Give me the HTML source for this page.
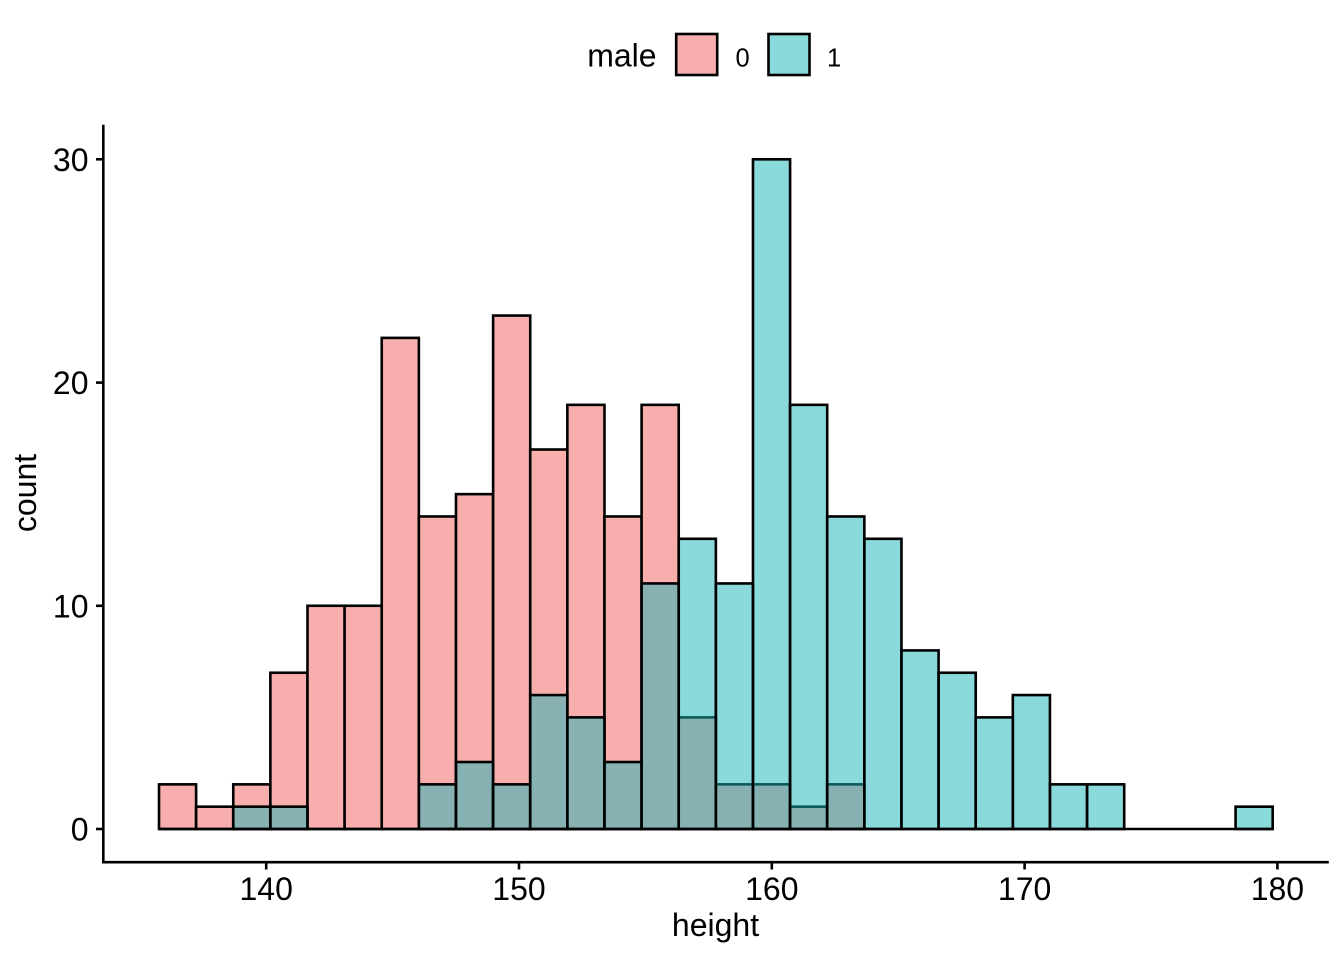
<!DOCTYPE html>
<html>
<head>
<meta charset="utf-8">
<style>
html,body{margin:0;padding:0;background:#fff;}
svg{display:block;}
text{font-family:"Liberation Sans",Arial,sans-serif;fill:#000;}
</style>
</head>
<body>
<svg width="1344" height="960" viewBox="0 0 1344 960" xmlns="http://www.w3.org/2000/svg">
<rect x="0" y="0" width="1344" height="960" fill="#fff"/>

<!-- female (0) bars -->
<g fill="rgb(248,174,172)" stroke="#000" stroke-width="2.6" stroke-linejoin="miter">
<rect x="159.00" y="784.35" width="37.12" height="44.65"/>
<rect x="196.12" y="806.68" width="37.13" height="22.32"/>
<rect x="233.25" y="784.35" width="37.12" height="44.65"/>
<rect x="270.37" y="672.74" width="37.12" height="156.26"/>
<rect x="307.49" y="605.77" width="37.13" height="223.23"/>
<rect x="344.62" y="605.77" width="37.12" height="223.23"/>
<rect x="381.74" y="337.89" width="37.12" height="491.11"/>
<rect x="418.86" y="516.48" width="37.12" height="312.52"/>
<rect x="455.98" y="494.15" width="37.13" height="334.85"/>
<rect x="493.11" y="315.57" width="37.12" height="513.43"/>
<rect x="530.23" y="449.51" width="37.12" height="379.49"/>
<rect x="567.35" y="404.86" width="37.13" height="424.14"/>
<rect x="604.48" y="516.48" width="37.12" height="312.52"/>
<rect x="641.60" y="404.86" width="37.12" height="424.14"/>
<rect x="678.72" y="717.38" width="37.13" height="111.62"/>
<rect x="715.85" y="784.35" width="37.12" height="44.65"/>
<rect x="752.97" y="784.35" width="37.12" height="44.65"/>
<rect x="790.09" y="806.68" width="37.12" height="22.32"/>
<rect x="827.21" y="784.35" width="37.13" height="44.65"/>
</g>

<!-- male (1) bars -->
<g fill="rgba(21,179,183,0.5)" stroke="#000" stroke-width="2.6" stroke-linejoin="miter">
<rect x="233.25" y="806.68" width="37.12" height="22.32"/>
<rect x="270.37" y="806.68" width="37.12" height="22.32"/>
<rect x="418.86" y="784.35" width="37.12" height="44.65"/>
<rect x="455.98" y="762.03" width="37.13" height="66.97"/>
<rect x="493.11" y="784.35" width="37.12" height="44.65"/>
<rect x="530.23" y="695.06" width="37.12" height="133.94"/>
<rect x="567.35" y="717.38" width="37.13" height="111.62"/>
<rect x="604.48" y="762.03" width="37.12" height="66.97"/>
<rect x="641.60" y="583.45" width="37.12" height="245.55"/>
<rect x="678.72" y="538.80" width="37.13" height="290.20"/>
<rect x="715.85" y="583.45" width="37.12" height="245.55"/>
<rect x="752.97" y="159.31" width="37.12" height="669.69"/>
<rect x="790.09" y="404.86" width="37.12" height="424.14"/>
<rect x="827.21" y="516.48" width="37.13" height="312.52"/>
<rect x="864.34" y="538.80" width="37.12" height="290.20"/>
<rect x="901.46" y="650.42" width="37.12" height="178.58"/>
<rect x="938.58" y="672.74" width="37.13" height="156.26"/>
<rect x="975.71" y="717.38" width="37.12" height="111.62"/>
<rect x="1012.83" y="695.06" width="37.12" height="133.94"/>
<rect x="1049.95" y="784.35" width="37.13" height="44.65"/>
<rect x="1087.08" y="784.35" width="37.12" height="44.65"/>
<rect x="1235.57" y="806.68" width="37.12" height="22.32"/>
</g>

<!-- baseline (zero-count bins) -->
<line x1="159" y1="829" x2="1272.69" y2="829" stroke="#000" stroke-width="2.6"/>

<!-- axes -->
<g stroke="#000" stroke-width="2.6" stroke-linecap="square">
<line x1="103.3" y1="126" x2="103.3" y2="862.2"/>
<line x1="103.3" y1="862.2" x2="1327.5" y2="862.2"/>
</g>
<g stroke="#000" stroke-width="2.6">
<line x1="96" y1="159.3" x2="103.3" y2="159.3"/>
<line x1="96" y1="382.6" x2="103.3" y2="382.6"/>
<line x1="96" y1="605.8" x2="103.3" y2="605.8"/>
<line x1="96" y1="829" x2="103.3" y2="829"/>
<line x1="266.2" y1="862.2" x2="266.2" y2="869.5"/>
<line x1="519" y1="862.2" x2="519" y2="869.5"/>
<line x1="771.8" y1="862.2" x2="771.8" y2="869.5"/>
<line x1="1024.6" y1="862.2" x2="1024.6" y2="869.5"/>
<line x1="1277.4" y1="862.2" x2="1277.4" y2="869.5"/>
</g>

<!-- tick labels -->
<g font-size="32" text-anchor="end">
<text x="88.5" y="170.8">30</text>
<text x="88.5" y="394.1">20</text>
<text x="88.5" y="617.3">10</text>
<text x="88.5" y="840.5">0</text>
</g>
<g font-size="32" text-anchor="middle">
<text x="266.2" y="900">140</text>
<text x="519" y="900">150</text>
<text x="771.8" y="900">160</text>
<text x="1024.6" y="900">170</text>
<text x="1277.4" y="900">180</text>
</g>

<!-- axis titles -->
<text x="715.5" y="936" font-size="32" text-anchor="middle">height</text>
<text x="0" y="0" font-size="32" text-anchor="middle" transform="translate(36,493) rotate(-90)">count</text>

<!-- legend -->
<text x="587.2" y="66.7" font-size="32">male</text>
<rect x="676.2" y="34" width="41" height="41" fill="rgb(248,174,172)" stroke="#000" stroke-width="2.6"/>
<text x="735.5" y="66.5" font-size="25.5">0</text>
<rect x="768.5" y="34" width="41" height="41" fill="rgba(21,179,183,0.5)" stroke="#000" stroke-width="2.6"/>
<text x="827" y="66.5" font-size="25.5">1</text>
</svg>
</body>
</html>
